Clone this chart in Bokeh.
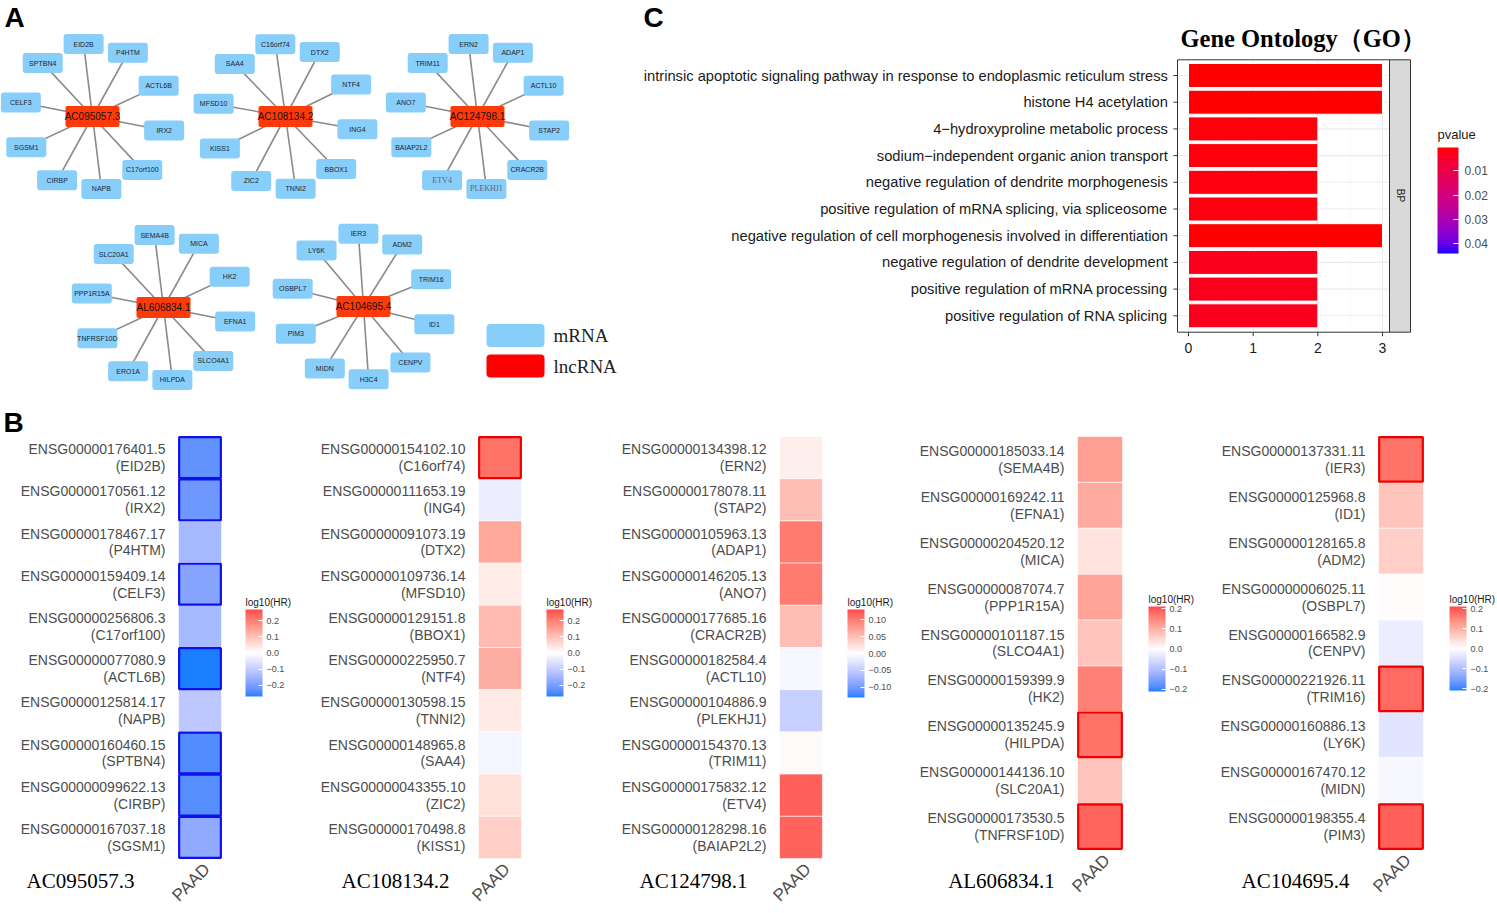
import numpy as np
from math import pi, cos, sin, radians
from bokeh.plotting import figure
from bokeh.layouts import column, row
from bokeh.models import (Range1d, ColumnDataSource, LinearColorMapper, ColorBar,
                          FixedTicker, CustomJSTickFormatter)
from bokeh.transform import transform
from bokeh.core.properties import value
from bokeh.embed import file_html
from bokeh.resources import INLINE

# ------------------------------------------------------------------ data
# Panel A: lncRNA -> mRNA network (targets listed clockwise from top)
hub_names = ["AC095057.3", "AC108134.2", "AC124798.1", "AL606834.1", "AC104695.4"]
hub1_targets = ["EID2B", "P4HTM", "ACTL6B", "IRX2", "C17orf100", "NAPB", "CIRBP", "SGSM1", "CELF3", "SPTBN4"]
hub2_targets = ["C16orf74", "DTX2", "NTF4", "ING4", "BBOX1", "TNNI2", "ZIC2", "KISS1", "MFSD10", "SAA4"]
hub3_targets = ["ERN2", "ADAP1", "ACTL10", "STAP2", "CRACR2B", "PLEKHJ1", "ETV4", "BAIAP2L2", "ANO7", "TRIM11"]
hub4_targets = ["SEMA4B", "MICA", "HK2", "EFNA1", "SLCO4A1", "HILPDA", "ERO1A", "TNFRSF10D", "PPP1R15A", "SLC20A1"]
hub5_targets = ["IER3", "ADM2", "TRIM16", "ID1", "CENPV", "H3C4", "MIDN", "PIM3", "OSBPL7", "LY6K"]
serif_nodes = ["ETV4", "PLEKHJ1"]
legend_labels = ["mRNA", "lncRNA"]

# Panel B: heatmaps  (log10(HR), significance)
hm1_ids = ["ENSG00000176401.5", "ENSG00000170561.12", "ENSG00000178467.17", "ENSG00000159409.14",
           "ENSG00000256806.3", "ENSG00000077080.9", "ENSG00000125814.17", "ENSG00000160460.15",
           "ENSG00000099622.13", "ENSG00000167037.18"]
hm1_genes = ["EID2B", "IRX2", "P4HTM", "CELF3", "C17orf100", "ACTL6B", "NAPB", "SPTBN4", "CIRBP", "SGSM1"]
hm1_vals = [-0.225, -0.215, -0.14, -0.185, -0.14, -0.27, -0.11, -0.24, -0.235, -0.175]
hm1_sig = [1, 1, 0, 1, 0, 1, 0, 1, 1, 1]

hm2_ids = ["ENSG00000154102.10", "ENSG00000111653.19", "ENSG00000091073.19", "ENSG00000109736.14",
           "ENSG00000129151.8", "ENSG00000225950.7", "ENSG00000130598.15", "ENSG00000148965.8",
           "ENSG00000043355.10", "ENSG00000170498.8"]
hm2_genes = ["C16orf74", "ING4", "DTX2", "MFSD10", "BBOX1", "NTF4", "TNNI2", "SAA4", "ZIC2", "KISS1"]
hm2_vals = [0.22, -0.035, 0.14, 0.03, 0.11, 0.13, 0.035, -0.02, 0.05, 0.08]
hm2_sig = [1, 0, 0, 0, 0, 0, 0, 0, 0, 0]

hm3_ids = ["ENSG00000134398.12", "ENSG00000178078.11", "ENSG00000105963.13", "ENSG00000146205.13",
           "ENSG00000177685.16", "ENSG00000182584.4", "ENSG00000104886.9", "ENSG00000154370.13",
           "ENSG00000175832.12", "ENSG00000128298.16"]
hm3_genes = ["ERN2", "STAP2", "ADAP1", "ANO7", "CRACR2B", "ACTL10", "PLEKHJ1", "TRIM11", "ETV4", "BAIAP2L2"]
hm3_vals = [0.013, 0.05, 0.10, 0.10, 0.05, -0.008, -0.045, 0.004, 0.117, 0.115]
hm3_sig = [0, 0, 0, 0, 0, 0, 0, 0, 0, 0]

hm4_ids = ["ENSG00000185033.14", "ENSG00000169242.11", "ENSG00000204520.12", "ENSG00000087074.7",
           "ENSG00000101187.15", "ENSG00000159399.9", "ENSG00000135245.9", "ENSG00000144136.10",
           "ENSG00000173530.5"]
hm4_genes = ["SEMA4B", "EFNA1", "MICA", "PPP1R15A", "SLCO4A1", "HK2", "HILPDA", "SLC20A1", "TNFRSF10D"]
hm4_vals = [0.12, 0.105, 0.035, 0.115, 0.075, 0.155, 0.17, 0.073, 0.185]
hm4_sig = [0, 0, 0, 0, 0, 0, 1, 0, 1]

hm5_ids = ["ENSG00000137331.11", "ENSG00000125968.8", "ENSG00000128165.8", "ENSG00000006025.11",
           "ENSG00000166582.9", "ENSG00000221926.11", "ENSG00000160886.13", "ENSG00000167470.12",
           "ENSG00000198355.4"]
hm5_genes = ["IER3", "ID1", "ADM2", "OSBPL7", "CENPV", "TRIM16", "LY6K", "MIDN", "PIM3"]
hm5_vals = [0.17, 0.073, 0.062, 0.004, -0.025, 0.178, -0.04, -0.01, 0.19]
hm5_sig = [1, 0, 0, 0, 0, 1, 0, 0, 1]

hm_column = "PAAD"
hm_limits = [0.27, 0.27, 0.13, 0.21, 0.21]
hm_ticks = [[-0.2, -0.1, 0.0, 0.1, 0.2], [-0.2, -0.1, 0.0, 0.1, 0.2], [-0.1, -0.05, 0.0, 0.05, 0.1],
            [-0.2, -0.1, 0.0, 0.1, 0.2], [-0.2, -0.1, 0.0, 0.1, 0.2]]
hm_digits = [1, 1, 2, 1, 1]

# Panel C: GO enrichment
go_terms = ["intrinsic apoptotic signaling pathway in response to endoplasmic reticulum stress",
            "histone H4 acetylation",
            "4\u2212hydroxyproline metabolic process",
            "sodium\u2212independent organic anion transport",
            "negative regulation of dendrite morphogenesis",
            "positive regulation of mRNA splicing, via spliceosome",
            "negative regulation of cell morphogenesis involved in differentiation",
            "negative regulation of dendrite development",
            "positive regulation of mRNA processing",
            "positive regulation of RNA splicing"]
go_counts = [3, 3, 2, 2, 2, 2, 3, 2, 2, 2]
go_pvalues = [0.0005, 0.0005, 0.0014, 0.0014, 0.0015, 0.0016, 0.0007, 0.0028, 0.0029, 0.0029]
go_xticks = [0, 1, 2, 3]
go_pticks = [0.01, 0.02, 0.03, 0.04]
go_p_low, go_p_high = 0.0004, 0.044
go_ontology = "BP"

# ------------------------------------------------------------------ colour helpers (CIELAB ramps, like ggplot)
_M = np.array([[0.4124, 0.3576, 0.1805], [0.2126, 0.7152, 0.0722], [0.0193, 0.1192, 0.9505]])
_W = _M @ np.ones(3)


def _to_lab(h):
    c = np.array([int(h[i:i + 2], 16) for i in (1, 3, 5)]) / 255.0
    c = np.where(c <= 0.04045, c / 12.92, ((c + 0.055) / 1.055) ** 2.4)
    t = (_M @ c) / _W
    d = 6 / 29
    f = np.where(t > d ** 3, np.cbrt(t), t / (3 * d * d) + 4 / 29)
    return np.array([116 * f[1] - 16, 500 * (f[0] - f[1]), 200 * (f[1] - f[2])])


def _from_lab(lab):
    L, a, b = lab
    fy = (L + 16) / 116
    f = np.array([fy + a / 500, fy, fy - b / 200])
    d = 6 / 29
    t = np.where(f > d, f ** 3, 3 * d * d * (f - 4 / 29)) * _W
    c = np.linalg.solve(_M, t)
    c = np.where(c <= 0.0031308, 12.92 * c, 1.055 * np.power(np.clip(c, 0, None), 1 / 2.4) - 0.055)
    c = np.clip(np.round(c * 255), 0, 255).astype(int)
    return "#%02x%02x%02x" % tuple(c)


def ramp(anchors, n=256):
    labs = [_to_lab(a) for a in anchors]
    out = []
    for i in range(n):
        t = i / (n - 1) * (len(labs) - 1)
        k = min(int(t), len(labs) - 2)
        u = t - k
        out.append(_from_lab(labs[k] * (1 - u) + labs[k + 1] * u))
    return out


HM_PALETTE = ramp(["#1A80FF", "#FFFFFF", "#FF4A4A"])
GO_PALETTE = ramp(["#0000FF", "#FF0000"])   # low end (large p) blue -> high end (small p) red

SANS = "Liberation Sans"
SERIF = "Liberation Serif"
ROW1_H = 405
ROW2_H = 505


def canvas_fig(w, h, xr, yr):
    p = figure(x_range=xr, y_range=yr, frame_width=w, frame_height=h, min_border=0,
               x_axis_type=None, y_axis_type=None, output_backend="svg", toolbar_location=None)
    p.outline_line_color = None
    p.background_fill_color = "white"
    return p


# ------------------------------------------------------------------ Panel A (network)
WA = 630
pA = canvas_fig(WA, ROW1_H, Range1d(0, WA), Range1d(ROW1_H, 0))

hub_xy = [(92, 116), (285, 116), (477, 116), (163, 307), (363, 306)]
hub_start = [97, 98, 97, 97, 94]
R = 73
targets = [hub1_targets, hub2_targets, hub3_targets, hub4_targets, hub5_targets]
x0, y0, tx, ty, tn = [], [], [], [], []
for (hx, hy), a0, tl in zip(hub_xy, hub_start, targets):
    step = 360.0 / len(tl)
    for k, t in enumerate(tl):
        a = radians(a0 - step * k)
        x0.append(hx); y0.append(hy)
        tx.append(hx + R * cos(a)); ty.append(hy - R * sin(a)); tn.append(t)

pA.segment(x0=x0, y0=y0, x1=tx, y1=ty, line_color="#8a8a8a", line_width=1.6)
pA.rect(x=tx, y=ty, width=40, height=20, fill_color="#87CEFA", line_color=None, border_radius=3)
plain = [i for i, t in enumerate(tn) if t not in serif_nodes]
fancy = [i for i, t in enumerate(tn) if t in serif_nodes]
pA.text(x=[tx[i] for i in plain], y=[ty[i] for i in plain], text=[tn[i] for i in plain],
        text_font=value(SANS), text_font_size="7px", text_align="center", text_baseline="middle",
        text_color="#1c2633")
pA.text(x=[tx[i] for i in fancy], y=[ty[i] for i in fancy], text=[tn[i] for i in fancy],
        text_font=value(SERIF), text_font_size="8px", text_align="center", text_baseline="middle",
        text_color="#55657a")
pA.rect(x=[h[0] for h in hub_xy], y=[h[1] for h in hub_xy], width=54, height=21,
        fill_color="#FF3A0A", line_color=None, border_radius=2)
pA.text(x=[h[0] for h in hub_xy], y=[h[1] for h in hub_xy], text=hub_names, text_font=value(SANS),
        text_font_size="10px", text_align="center", text_baseline="middle", text_color="#111111")
# legend
pA.rect(x=[515, 515], y=[335, 365.5], width=58, height=23, fill_color=["#87CEFA", "#FF0000"],
        line_color=None, border_radius=4)
pA.text(x=[553, 553], y=[335, 366], text=legend_labels, text_font=value(SERIF),
        text_font_size="19px", text_align="left", text_baseline="middle", text_color="#222222")
pA.text(x=[4], y=[1], text=["A"], text_font=value(SANS), text_font_style="bold",
        text_font_size="28px", text_baseline="top", text_color="#000000")

# ------------------------------------------------------------------ Panel C (GO)
WC = 866
PX_X = 64.67          # pixels per count unit
PX_Y = 26.7           # pixels per term
X0_PAGE = 1188 - 630  # local x of count = 0
Y0_PAGE = 75          # local y of first term
xs = lambda px: (px - X0_PAGE) / PX_X      # local pixel -> data x
ys = lambda py: (py - Y0_PAGE) / PX_Y      # local pixel -> data y
pC = canvas_fig(WC, ROW1_H, Range1d(xs(0), xs(WC)), Range1d(ys(ROW1_H), ys(0)))

kk = list(range(len(go_terms)))
p_left, p_right, p_top, p_bot = xs(1177 - 630), xs(1389 - 630), ys(59.3), ys(331.7)
s_right = xs(1410 - 630)
# panel grid
pC.segment(x0=go_xticks, x1=go_xticks, y0=p_top, y1=p_bot, line_color="#EBEBEB", line_width=1.1)
minor = [a + 0.5 for a in go_xticks[:-1]]
pC.segment(x0=minor, x1=minor, y0=p_top, y1=p_bot, line_color="#F3F3F3", line_width=0.6)
pC.segment(x0=p_left, x1=p_right, y0=kk, y1=kk, line_color="#EBEBEB", line_width=1.1)

go_src = ColumnDataSource(dict(k=kk, term=go_terms, count=go_counts, negp=[-p for p in go_pvalues]))
go_mapper = LinearColorMapper(palette=GO_PALETTE, low=-go_p_high, high=-go_p_low)
pC.hbar(y="k", left=0, right="count", height=0.9, source=go_src,
        fill_color=transform("negp", go_mapper), line_color="white", line_width=1)
# panel border + facet strip
pC.quad(left=p_left, right=p_right, top=p_top, bottom=p_bot, fill_color=None, line_color="#333333",
        line_width=1)
pC.quad(left=p_right, right=s_right, top=p_top, bottom=p_bot, fill_color="#D9D9D9",
        line_color="#333333", line_width=1)
pC.text(x=[(p_right + s_right) / 2], y=[ys(195)], text=[go_ontology], angle=-pi / 2,
        text_font=value(SANS), text_font_size="10px", text_align="center", text_baseline="middle",
        text_color="#1a1a1a")
# y axis (term labels + ticks)
tick_w = 4 / PX_X
pC.segment(x0=p_left - tick_w, x1=p_left, y0=kk, y1=kk, line_color="#333333", line_width=1)
pC.text(x="x", y="k", text="term", source=ColumnDataSource(dict(x=[p_left - 2.4 * tick_w] * len(kk),
                                                                  k=kk, term=go_terms)),
        text_font=value(SANS), text_font_size="14.7px", text_align="right", text_baseline="middle",
        text_color="#1a1a1a")
# x axis
tick_h = 4 / PX_Y
pC.segment(x0=go_xticks, x1=go_xticks, y0=p_bot, y1=p_bot + tick_h, line_color="#333333", line_width=1)
pC.text(x=go_xticks, y=[ys(347)] * len(go_xticks), text=[str(t) for t in go_xticks],
        text_font=value(SANS), text_font_size="14px", text_align="center", text_baseline="middle",
        text_color="#1a1a1a")
# title and panel letter
pC.text(x=[xs(1180 - 630)], y=[ys(38)], text=["Gene Ontology\uff08GO\uff09"], text_font=value(SERIF),
        text_font_style="bold", text_font_size="24.5px", text_align="left", text_baseline="middle",
        text_color="#000000")
pC.text(x=[xs(643 - 630)], y=[ys(1)], text=["C"], text_font=value(SANS), text_font_style="bold",
        text_font_size="28px", text_align="left", text_baseline="top", text_color="#000000")
# p-value colour bar (red = small p on top)
CB_LEFT, CB_TOP, CB_H = 1437 - 630, 147, 106
pC.text(x=[xs(CB_LEFT)], y=[ys(134)], text=["pvalue"], text_font=value(SANS), text_font_size="13px",
        text_align="left", text_baseline="middle", text_color="#1a1a1a")
cbC = ColorBar(color_mapper=go_mapper, location=(CB_LEFT, ROW1_H - (CB_TOP + CB_H)), width=21, height=CB_H,
               ticker=FixedTicker(ticks=[-t for t in go_pticks]),
               major_label_text_alpha=0, major_label_text_font_size="12px",
               major_tick_line_color="white", major_tick_in=5, major_tick_out=0, minor_tick_line_color=None,
               bar_line_color=None, border_line_color=None, background_fill_color=None, padding=0, margin=0)
pC.add_layout(cbC)
# tick labels of the p-value bar, placed through the bar's own linear scale
tick_py = [CB_TOP + CB_H - (-t - (-go_p_high)) / (go_p_high - go_p_low) * CB_H for t in go_pticks]
pC.text(x=[xs(CB_LEFT + 21 + 6)] * len(go_pticks), y=[ys(v) for v in tick_py],
        text=["%.2f" % t for t in go_pticks], text_font=value(SANS), text_font_size="12px",
        text_align="left", text_baseline="middle", text_color="#4d4d4d")

# ------------------------------------------------------------------ Panel B (heatmaps)
HM_TOP = 31


def heatmap(ids, genes, vals, sig, name, lim, ticks, digits, sig_color, width, tile_left, tile_w,
            grid_h, bar_left, bar_bottom, bar_h, name_cx, letter=None):
    n = len(ids)
    rh = grid_h / n
    fx = lambda px: (px - tile_left) / tile_w
    fy = lambda py: (py - HM_TOP) / rh
    p = canvas_fig(width, ROW2_H, Range1d(fx(0), fx(width)), Range1d(fy(ROW2_H), fy(0)))
    mapper = LinearColorMapper(palette=HM_PALETTE, low=-lim, high=lim)
    rows_k = [k + 0.5 for k in range(n)]
    labels = ["%s\n(%s)" % (i, g) for i, g in zip(ids, genes)]
    src = ColumnDataSource(dict(x=[0.5] * n, y=rows_k, v=vals, lab=labels, lx=[fx(tile_left - 13)] * n))
    p.rect(x="x", y="y", width=1, height=1, source=src, fill_color=transform("v", mapper),
           line_color="white", line_width=0.6)
    sk = [y for y, s in zip(rows_k, sig) if s]
    p.rect(x=[0.5] * len(sk), y=sk, width=0.97, height=0.97, fill_color=None,
           line_color=sig_color, line_width=2.2)
    # row labels
    p.text(x="lx", y="y", text="lab", source=src, text_font=value(SANS), text_font_size="14px",
           text_line_height=1.05, text_align="right", text_baseline="middle", text_color="#4d4d4d")
    # column label (rotated 45 degrees, ending under the tile)
    p.text(x=[0.5 + 7 / tile_w], y=[n + 8 / rh], text=[hm_column], angle=pi / 4,
           text_font=value(SANS), text_font_size="17px", text_align="right", text_baseline="middle",
           text_color="#4d4d4d")
    # lncRNA name
    p.text(x=[fx(name_cx)], y=[fy(475)], text=[name], text_font=value(SERIF), text_font_size="21px",
           text_align="center", text_baseline="middle", text_color="#000000")
    if letter:
        p.text(x=[fx(3)], y=[fy(1)], text=[letter], text_font=value(SANS), text_font_style="bold",
               text_font_size="28px", text_align="left", text_baseline="top", text_color="#000000")
    # colour bar
    p.text(x=[fx(bar_left)], y=[fy(bar_bottom - bar_h - 2)], text=["log10(HR)"], text_font=value(SANS),
           text_font_size="10px", text_align="left", text_baseline="bottom", text_color="#1a1a1a")
    fmt = CustomJSTickFormatter(
        code="return (tick < 0 ? '\\u2212' : '') + Math.abs(tick).toFixed(%d);" % digits)
    cb = ColorBar(color_mapper=mapper, location=(bar_left, ROW2_H - bar_bottom), width=17, height=bar_h,
                  ticker=FixedTicker(ticks=ticks), formatter=fmt, major_label_text_font=SANS,
                  major_label_text_font_size="9px", major_label_text_color="#4d4d4d", label_standoff=4,
                  major_tick_line_color="white", major_tick_in=4, major_tick_out=0,
                  minor_tick_line_color=None, bar_line_color=None, border_line_color=None,
                  background_fill_color=None, padding=0, margin=0)
    p.add_layout(cb)
    return p


h1 = heatmap(hm1_ids, hm1_genes, hm1_vals, hm1_sig, hub_names[0], hm_limits[0], hm_ticks[0], hm_digits[0],
             "#1010EE", 300, 178, 43, 422, 245, 291, 87, 80, letter="B")
h2 = heatmap(hm2_ids, hm2_genes, hm2_vals, hm2_sig, hub_names[1], hm_limits[1], hm_ticks[1], hm_digits[1],
             "#EE0000", 300, 178, 43, 422, 246, 291, 87, 95)
h3 = heatmap(hm3_ids, hm3_genes, hm3_vals, hm3_sig, hub_names[2], hm_limits[2], hm_ticks[2], hm_digits[2],
             "#EE0000", 300, 179, 43, 422, 247, 292, 88, 93)
h4 = heatmap(hm4_ids, hm4_genes, hm4_vals, hm4_sig, hub_names[3], hm_limits[3], hm_ticks[3], hm_digits[3],
             "#EE0000", 300, 177, 45, 413, 248, 286, 85, 101)
h5 = heatmap(hm5_ids, hm5_genes, hm5_vals, hm5_sig, hub_names[4], hm_limits[4], hm_ticks[4], hm_digits[4],
             "#EE0000", 296, 178, 45, 413, 249, 285, 84, 95)

layout = column(row(pA, pC), row(h1, h2, h3, h4, h5))
open("out.html", "w").write(file_html(layout, INLINE))
